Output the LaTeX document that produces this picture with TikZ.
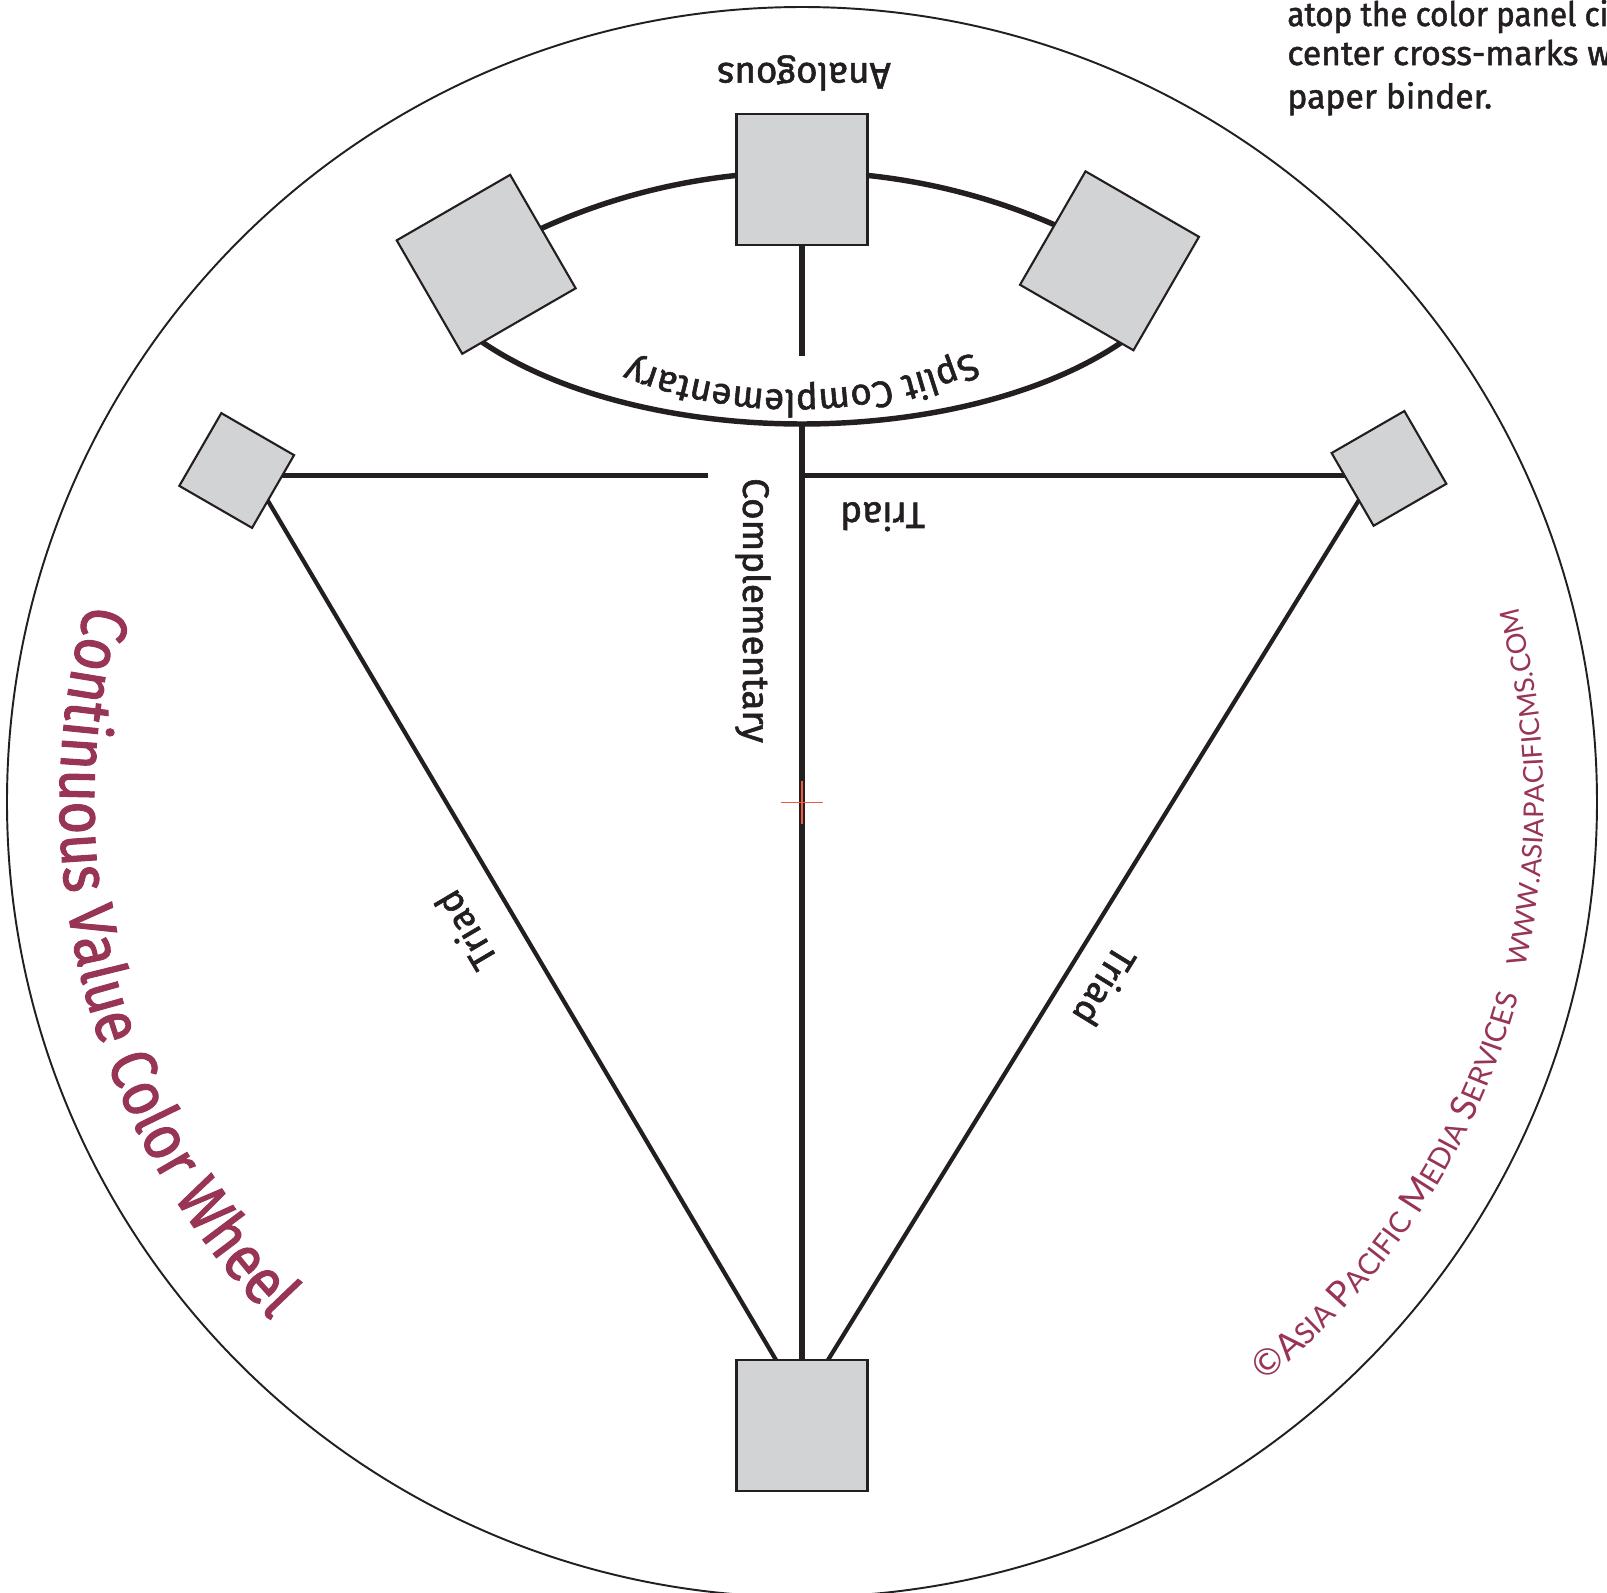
\documentclass[tikz,border=0pt]{standalone}
\usepackage{fontspec}
\setmainfont{Fira Sans}
\newfontfamily\lblfont[FakeBold=1.5]{Fira Sans}
\newfontfamily\notenarrow[FakeBold=1.5, FakeStretch=0.93]{Fira Sans}
\newfontfamily\titlefont[FakeStretch=0.87, FakeBold=1.6]{Fira Sans}
\newfontfamily\cpfont{Lato}
\usetikzlibrary{decorations.text,backgrounds}
\definecolor{ink}{RGB}{35,31,32}
\definecolor{panel}{RGB}{209,211,212}
\definecolor{wine}{RGB}{152,52,84}
\definecolor{crossred}{RGB}{241,90,64}
\newcommand\lblsize{\lblfont\fontsize{10.5}{12.6}\selectfont}
\newcommand\cpbig{\cpfont\fontsize{10.3}{12}\selectfont}
\newcommand\cpsmall{\cpfont\fontsize{8.3}{10}\selectfont}
\newcommand\cpwww{\cpfont\fontsize{7.75}{10}\selectfont}
\newcommand\ttlsize{\titlefont\fontsize{18.5}{20}\selectfont}
\begin{document}
\begin{tikzpicture}[
  panelbox/.style={shape=rectangle, draw=ink, line width=0.6pt, fill=panel, minimum size=1.31cm, inner sep=0pt, outer sep=0pt},
  smallbox/.style={panelbox, minimum size=0.84cm},
  lbl/.style={text=ink, font=\lblsize, inner sep=0pt, outer sep=0pt},
  arcline/.style={draw=ink, line width=1.55pt},
  vline/.style={draw=ink, line width=1.75pt},
  hline/.style={draw=ink, line width=1.35pt},
  triadline/.style={draw=ink, line width=1.2pt},
  crossline/.style={draw=crossred, line width=0.5pt},
  note/.style={text=ink, font=\lblfont\fontsize{9.6}{11}\selectfont, anchor=base west, inner sep=0pt}
]
\useasboundingbox (-8.02,-7.90) rectangle (8.05,8.02);
\begin{scope}[on background layer]
  \fill[white] (-8.02,-7.90) rectangle (8.05,8.02);
\end{scope}

% wheel outline
\node[draw=ink, line width=0.55pt, circle, minimum size=15.9cm, inner sep=0pt, outer sep=0pt] (wheel) at (0,0) {};

% colour panels
\node[panelbox] (A) at (0,6.225) {};
\node[panelbox, rotate=30] (L) at (-3.158,5.377) {};
\node[panelbox, rotate=-30] (R) at (3.075,5.412) {};
\node[panelbox] (B) at (0,-6.236) {};
\node[smallbox, rotate=-30] (SL) at (-5.653,3.315) {};
\node[smallbox, rotate=30] (SR) at (5.87,3.336) {};

% connectors behind the panels
\begin{scope}[on background layer]
  \draw[arcline] (120:6.30) arc[start angle=120, end angle=60, radius=6.30];
  \draw[arcline] (-3.30,4.672) arc[start angle=214.4, end angle=325.6, x radius=4.0, y radius=2.05];
  \draw[vline] (A.south) -- (0,4.46);
  \draw[vline] (0,3.78) -- (B.north);
  \draw[hline] ([shift={(0.1,-0.05)}]SL.center) -- (-0.94,3.265);
  \draw[hline] (0,3.265) -- ([shift={(-0.1,-0.071)}]SR.center);
  \draw[triadline] ([shift={(0.206,-0.123)}]SL.center) -- ([shift={(-0.158,0.484)}]B.center);
  \draw[triadline] ([shift={(-0.195,-0.146)}]SR.center) -- ([shift={(0.155,0.486)}]B.center);
\end{scope}

% centre cross-mark
\draw[crossline] (-0.21,-0.005) -- (0.21,-0.005);
\draw[crossline] (0,-0.223) -- (0,0.21);

% labels
\node[lbl, rotate=180] (analog) at (0.02,7.29) {Analogous};
\node[lbl, rotate=-90] (compl) at (-0.49,1.915) {Complementary};
\node[lbl, rotate=180] (triadT) at (0.805,2.853) {Triad};
\node[lbl, rotate=120.6] (triadL) at (-3.37,-1.286) {Triad};
\node[lbl, rotate=-121.7] (triadR) at (3.034,-1.85) {Triad};

\path[decorate, decoration={text along path, text color=ink, text align=center,
   text={|\lblsize|Split Complementary}}]
   (2.807,5.199) arc[start angle=311, end angle=231, radius=4.4];

% title
\path[decorate, decoration={text along path, text color=wine, text align=left,
   text={|\ttlsize|Continuous Value Color Wheel}}]
   (164.5:7.42) arc[start angle=164.5, end angle=245, radius=7.42];

% copyright
\path[decorate, decoration={text along path, text color=wine, text align=left,
   text={|\cpbig|©A|\cpsmall|SIA |\cpbig|P|\cpsmall|ACIFIC |\cpbig|M|\cpsmall|EDIA |\cpbig|S|\cpsmall|ERVICES}}]
   (-51.4:7.42) arc[start angle=-51.4, end angle=-5, radius=7.42];
\path[decorate, decoration={text along path, text color=wine, text align=left,
   text={|\cpwww|WWW.ASIAPACIFICMS.COM}}]
   (-12.9:7.42) arc[start angle=-12.9, end angle=30, radius=7.42];

% note text at top right
\node[note, font=\notenarrow\fontsize{9.6}{11}\selectfont] (n1) at (4.847,7.76) {atop the color panel ci};
\node[note] (n2) at (4.847,7.37) {center cross-marks w};
\node[note] (n3) at (4.847,6.937) {paper binder.};
\end{tikzpicture}
\end{document}
